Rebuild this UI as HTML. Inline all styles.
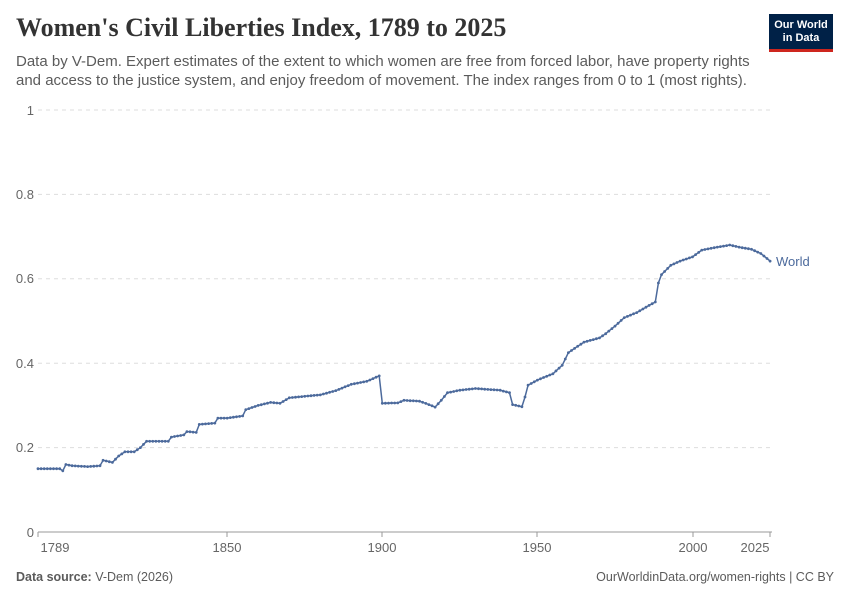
<!DOCTYPE html>
<html><head><meta charset="utf-8"><style>
body{margin:0;background:#fff;width:850px;height:600px;overflow:hidden;font-family:"Liberation Sans",sans-serif;position:relative}
.t{position:absolute;left:16px;top:13px;font-family:"Liberation Serif",serif;font-weight:bold;font-size:26px;color:#333}
.s{position:absolute;left:16px;top:52px;width:745px;font-size:15px;line-height:19px;color:#5b5b5b}
.logo{position:absolute;left:769px;top:14px;width:64px;height:38px;background:#002147;color:#fff;font-size:11px;font-weight:bold;text-align:center;line-height:13px;padding-top:5px;box-sizing:border-box;border-bottom:3px solid #ce261e}
.f{position:absolute;top:570px;font-size:12.5px;color:#5b5b5b}
</style></head><body>
<div class="t">Women's Civil Liberties Index, 1789 to 2025</div>
<div class="s">Data by V-Dem. Expert estimates of the extent to which women are free from forced labor, have property rights and access to the justice system, and enjoy freedom of movement. The index ranges from 0 to 1 (most rights).</div>
<div class="logo">Our World<br>in Data</div>
<svg id="c" width="850" height="600" style="position:absolute;left:0;top:0" font-family="Liberation Sans, sans-serif">
<g stroke="#ddd" stroke-dasharray="4,4">
<line x1="38" x2="772" y1="110" y2="110"/><line x1="38" x2="772" y1="194.4" y2="194.4"/><line x1="38" x2="772" y1="278.8" y2="278.8"/><line x1="38" x2="772" y1="363.2" y2="363.2"/><line x1="38" x2="772" y1="447.6" y2="447.6"/>
</g>
<line x1="38" x2="772" y1="532" y2="532" stroke="#999"/>
<g fill="#666" font-size="13" text-anchor="end">
<text x="34" y="115">1</text><text x="34" y="199">0.8</text><text x="34" y="283">0.6</text><text x="34" y="368">0.4</text><text x="34" y="452">0.2</text><text x="34" y="537">0</text>
</g>
<g fill="#666" font-size="13" text-anchor="middle">
<text x="55" y="552">1789</text><text x="227" y="552">1850</text><text x="382" y="552">1900</text><text x="537" y="552">1950</text><text x="693" y="552">2000</text><text x="755" y="552">2025</text>
</g>
<g stroke="#999"><line x1="38" x2="38" y1="532" y2="537"/><line x1="227" x2="227" y1="532" y2="537"/><line x1="382" x2="382" y1="532" y2="537"/><line x1="537" x2="537" y1="532" y2="537"/><line x1="693" x2="693" y1="532" y2="537"/><line x1="770" x2="770" y1="532" y2="537"/></g>
<text x="776" y="266" fill="#4c6a9c" font-size="13">World</text>
<g id="g"></g>
</svg>
<div class="f" style="left:16px"><b>Data source:</b> V-Dem (2026)</div>
<div class="f" style="right:16px">OurWorldinData.org/women-rights | CC BY</div>
<script>
var k=[[1789,.15],[1796,.15],[1797,.145],[1798,.16],[1800,.157],[1805,.155],[1809,.157],[1810,.17],[1813,.165],[1815,.18],[1817,.19],[1820,.19],[1822,.2],[1824,.215],[1831,.215],[1832,.225],[1836,.23],[1837,.238],[1840,.236],[1841,.255],[1846,.258],[1847,.27],[1850,.27],[1855,.275],[1856,.29],[1860,.3],[1864,.307],[1867,.305],[1870,.318],[1880,.325],[1885,.335],[1890,.35],[1895,.357],[1899,.37],[1900,.305],[1905,.306],[1907,.312],[1912,.31],[1915,.302],[1917,.296],[1919,.312],[1921,.33],[1925,.336],[1930,.34],[1938,.336],[1941,.33],[1942,.302],[1945,.297],[1946,.32],[1947,.348],[1950,.36],[1955,.375],[1958,.395],[1960,.425],[1965,.45],[1970,.46],[1972,.47],[1975,.488],[1978,.508],[1982,.52],[1986,.537],[1988,.545],[1989,.59],[1990,.61],[1993,.632],[1996,.642],[2000,.652],[2003,.668],[2008,.675],[2012,.68],[2015,.675],[2019,.67],[2022,.66],[2025,.642]];
function v(y){for(var i=0;i<k.length-1;i++){if(y>=k[i][0]&&y<=k[i+1][0]){var t=(y-k[i][0])/(k[i+1][0]-k[i][0]);return k[i][1]+t*(k[i+1][1]-k[i][1]);}}return k[k.length-1][1];}
var p="",c="";for(var y=1789;y<=2025;y++){var X=38+(y-1789)*3.102,Y=532-v(y)*422;p+=(y==1789?"M":"L")+X.toFixed(1)+","+Y.toFixed(1);c+='<circle cx="'+X.toFixed(1)+'" cy="'+Y.toFixed(1)+'" r="1.4"/>';}
document.getElementById("g").innerHTML='<path d="'+p+'" fill="none" stroke="#4c6a9c" stroke-width="1.5"/><g fill="#4c6a9c">'+c+'</g>';
</script>
</body></html>
